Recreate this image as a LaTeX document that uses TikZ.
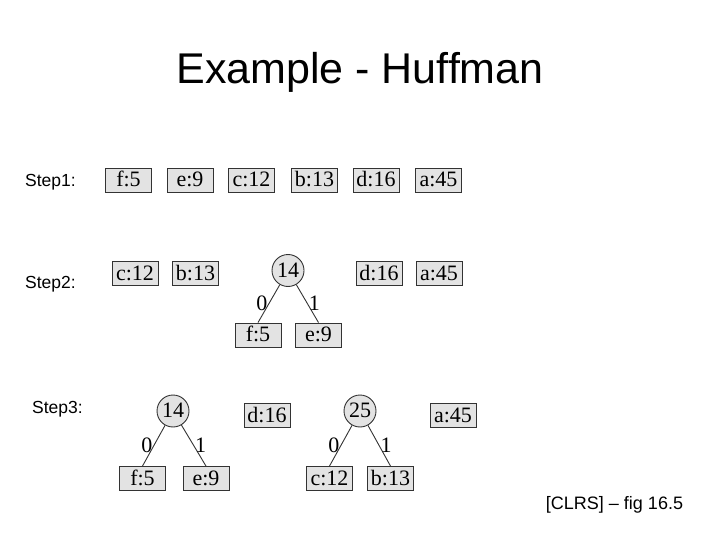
\documentclass[tikz,border=0pt]{standalone}
\usepackage{fontspec}
\setmainfont{Liberation Serif}
\newfontfamily\arialfont{Liberation Sans}
\begin{document}
\begin{tikzpicture}[x=1pt,y=-1pt,
  leaf/.style={draw=black!80, fill=black!11, line width=0.9pt, minimum width=46pt, minimum height=24pt, inner sep=0pt, text height=14pt, text depth=1pt, font=\fontsize{22}{24}\selectfont},
  inode/.style={circle, draw=black!80, fill=black!11, line width=0.9pt, minimum size=32pt, inner sep=0pt, text height=14pt, text depth=1pt, font=\fontsize{22}{24}\selectfont},
  edge/.style={draw=black!80, line width=0.9pt},
  bit/.style={font=\fontsize{22}{24}\selectfont, inner sep=1pt},
  steplab/.style={font=\arialfont\fontsize{17.5}{20}\selectfont, anchor=base west, inner sep=0pt}]
\useasboundingbox (0,0) rectangle (720,540);
\node[font=\arialfont\fontsize{43}{50}\selectfont, anchor=base, inner sep=0pt] (title) at (360,84) {Example - Huffman};
% Step 1
\node[steplab] (s1) at (25,187) {Step1:};
\node[leaf] (f1) at (128.5,180) {f:5};
\node[leaf] (e1) at (190,180) {e:9};
\node[leaf] (c1) at (251.5,180) {c:12};
\node[leaf] (b1) at (314.5,180) {b:13};
\node[leaf] (d1) at (376,180) {d:16};
\node[leaf] (a1) at (438.5,180) {a:45};
% Step 2
\node[steplab] (s2) at (25,288) {Step2:};
\node[leaf] (c2) at (135,273.5) {c:12};
\node[leaf] (b2) at (195.5,273.5) {b:13};
\node[inode] (n14b) at (288,270.5) {14};
\node[leaf] (d2) at (379,273.5) {d:16};
\node[leaf] (a2) at (439,273.5) {a:45};
\node[leaf] (f2) at (258,335) {f:5};
\node[leaf] (e2) at (318.5,335) {e:9};
\path[edge] (n14b) -- node[bit, left] {0} (f2.north);
\path[edge] (n14b) -- node[bit, right] {1} (e2.north);
% Step 3
\node[steplab] (s3) at (32,413) {Step3:};
\node[inode] (n14c) at (173,411) {14};
\node[leaf] (d3) at (267,415.5) {d:16};
\node[inode] (n25) at (360,411) {25};
\node[leaf] (a3) at (453,415.5) {a:45};
\node[leaf] (f3) at (142.5,478.5) {f:5};
\node[leaf] (e3) at (206,478.5) {e:9};
\node[leaf] (c3) at (329.5,478.5) {c:12};
\node[leaf] (b3) at (390.5,478.5) {b:13};
\path[edge] (n14c) -- node[bit, left] {0} (f3.north);
\path[edge] (n14c) -- node[bit, right] {1} (e3.north);
\path[edge] (n25) -- node[bit, left] {0} (c3.north);
\path[edge] (n25) -- node[bit, right] {1} (b3.north);
% citation
\node[font=\arialfont\fontsize{18}{20}\selectfont, inner sep=0pt] (cite) at (614.5,505) {[CLRS] – fig 16.5};
\end{tikzpicture}
\end{document}
